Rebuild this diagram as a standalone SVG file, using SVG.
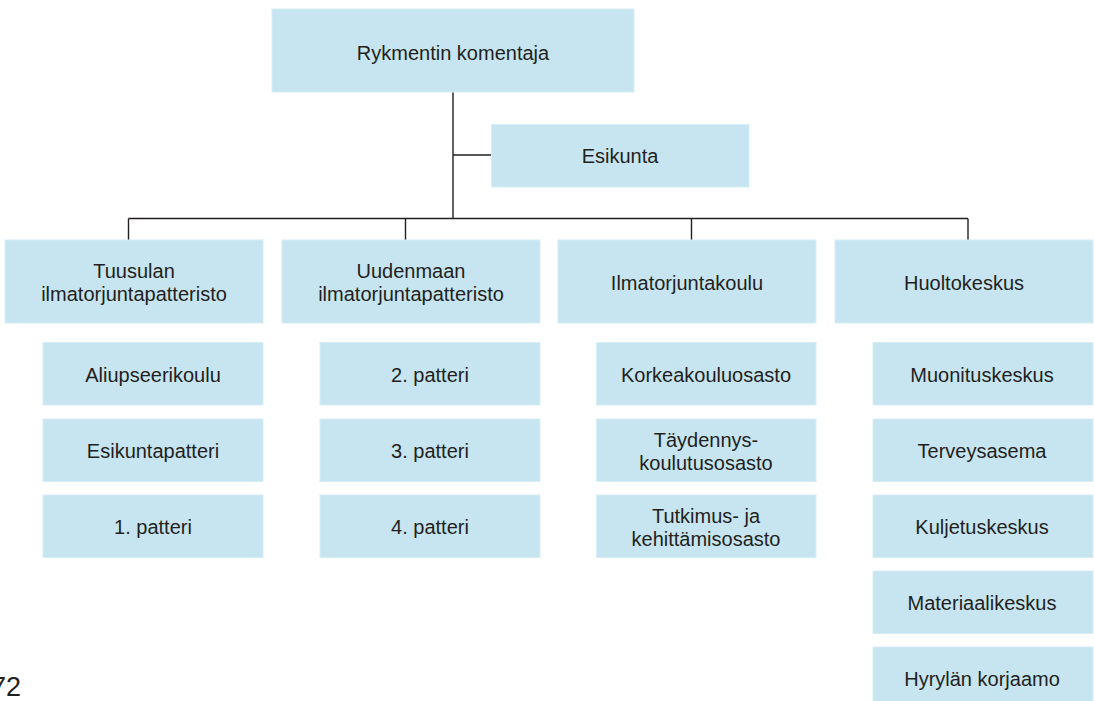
<svg xmlns="http://www.w3.org/2000/svg" width="1094" height="701" viewBox="0 0 1094 701">
<style>
.box{fill:#c6e5f0;stroke:#d6eef6;stroke-width:1}
.t{font-family:"Liberation Sans",Arial,sans-serif;font-size:20px;fill:#231f20;text-anchor:middle}
.c{stroke:#231f20;stroke-width:1.4;fill:none}
</style>
<rect width="1094" height="701" fill="#ffffff"/>
<g id="connectors">
<path class="c" d="M453,92 V218.5 M453,155 H491.5 M128.5,218.5 H968 M128.5,218.5 V240 M405.5,218.5 V240 M691.5,218.5 V240 M968,218.5 V240"/>
</g>
<g id="n-komentaja"><rect class="box" x="272" y="9" width="362" height="83"/><text class="t" x="453" y="59.5">Rykmentin komentaja</text></g>
<g id="n-esikunta"><rect class="box" x="491.5" y="124.5" width="257.5" height="62.5"/><text class="t" x="620" y="163">Esikunta</text></g>
<g id="n-tuusula"><rect class="box" x="5" y="240" width="258" height="83"/><text class="t" x="134" y="278">Tuusulan</text><text class="t" x="134" y="301">ilmatorjuntapatteristo</text></g>
<g id="n-uusimaa"><rect class="box" x="282" y="240" width="258" height="83"/><text class="t" x="411" y="278">Uudenmaan</text><text class="t" x="411" y="301">ilmatorjuntapatteristo</text></g>
<g id="n-itkoulu"><rect class="box" x="558" y="240" width="258" height="83"/><text class="t" x="687" y="289.5">Ilmatorjuntakoulu</text></g>
<g id="n-huolto"><rect class="box" x="835" y="240" width="258" height="83"/><text class="t" x="964" y="289.5">Huoltokeskus</text></g>
<g id="n-aliupseerikoulu"><rect class="box" x="43" y="342.5" width="220" height="62.5"/><text class="t" x="153" y="382">Aliupseerikoulu</text></g>
<g id="n-esikuntapatteri"><rect class="box" x="43" y="419" width="220" height="62.5"/><text class="t" x="153" y="458">Esikuntapatteri</text></g>
<g id="n-patteri1"><rect class="box" x="43" y="495" width="220" height="62.5"/><text class="t" x="153" y="534">1. patteri</text></g>
<g id="n-patteri2"><rect class="box" x="320" y="342.5" width="220" height="62.5"/><text class="t" x="430" y="382">2. patteri</text></g>
<g id="n-patteri3"><rect class="box" x="320" y="419" width="220" height="62.5"/><text class="t" x="430" y="458">3. patteri</text></g>
<g id="n-patteri4"><rect class="box" x="320" y="495" width="220" height="62.5"/><text class="t" x="430" y="534">4. patteri</text></g>
<g id="n-korkeakoulu"><rect class="box" x="596.5" y="342.5" width="219.5" height="62.5"/><text class="t" x="706" y="382">Korkeakouluosasto</text></g>
<g id="n-taydennys"><rect class="box" x="596.5" y="419" width="219.5" height="62.5"/><text class="t" x="706" y="447">Täydennys-</text><text class="t" x="706" y="470">koulutusosasto</text></g>
<g id="n-tutkimus"><rect class="box" x="596.5" y="495" width="219.5" height="62.5"/><text class="t" x="706" y="523">Tutkimus- ja</text><text class="t" x="706" y="546">kehittämisosasto</text></g>
<g id="n-muonitus"><rect class="box" x="873" y="342.5" width="220" height="62.5"/><text class="t" x="982" y="382">Muonituskeskus</text></g>
<g id="n-terveys"><rect class="box" x="873" y="419" width="220" height="62.5"/><text class="t" x="982" y="458">Terveysasema</text></g>
<g id="n-kuljetus"><rect class="box" x="873" y="495" width="220" height="62.5"/><text class="t" x="982" y="534">Kuljetuskeskus</text></g>
<g id="n-materiaali"><rect class="box" x="873" y="571" width="220" height="62.5"/><text class="t" x="982" y="610">Materiaalikeskus</text></g>
<g id="n-hyryla"><rect class="box" x="873" y="647" width="220" height="62.5"/><text class="t" x="982" y="686">Hyrylän korjaamo</text></g>
<text x="21" y="696" font-family="Liberation Sans Narrow,Liberation Sans,Arial,sans-serif" font-size="27" fill="#231f20" text-anchor="end">72</text>
</svg>
